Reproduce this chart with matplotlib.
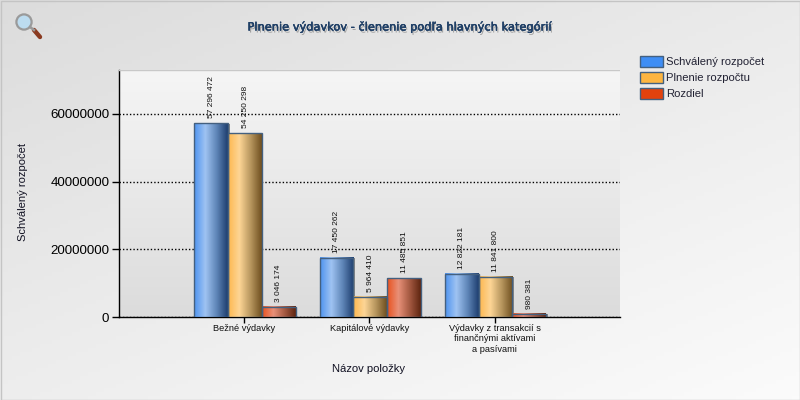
import numpy as np
import matplotlib
matplotlib.use("Agg")
import matplotlib.pyplot as plt
import matplotlib.patheffects as pe
from matplotlib.colors import LinearSegmentedColormap as LSC
from matplotlib.patches import Circle, Rectangle
from matplotlib.lines import Line2D

categories = ["Bežné výdavky", "Kapitálové výdavky",
              "Výdavky z transakcií s\nfinančnými aktívami\na pasívami"]
series_names = ["Schválený rozpočet", "Plnenie rozpočtu", "Rozdiel"]
schvaleny = [57296472, 17450262, 12822181]
plnenie = [54250298, 5964410, 11841800]
rozdiel = [3046174, 11485851, 980381]
yticks = [0, 20000000, 40000000, 60000000]
title = "Plnenie výdavkov - členenie podľa hlavných kategórií"
xlabel = "Názov položky"
ylabel = "Schválený rozpočet"

base_colors = ["#3f8ef5", "#fdb541", "#e2420e"]
grads = [["#4f94f0", "#9fc3f2", "#5f86b8", "#1f3f70"],
         ["#fdb850", "#fdd595", "#b8975f", "#705020"],
         ["#e8521f", "#e89078", "#a55a42", "#5f2510"]]

W, H = 800, 400
plt.rcParams['font.family'] = ['Liberation Sans', 'DejaVu Sans']
fig = plt.figure(figsize=(W/100, H/100), dpi=100)

# page background
bg = fig.add_axes([0, 0, 1, 1], zorder=0)
bg.set_axis_off()
yy, xx = np.mgrid[0:1:100j, 0:1:200j]
bg.imshow(0.45*xx + 0.55*yy, cmap=LSC.from_list("p", ["#dcdcdc", "#ececec", "#fbfbfb"]),
          extent=[0, W, H, 0], aspect="auto", vmin=0, vmax=1)
bg.add_patch(Rectangle((0.5, 0.5), W-1, H-1, fill=False, ec="#c4c4c4", lw=1))
bg.set_xlim(0, W); bg.set_ylim(H, 0)

# magnifier icon
bg.add_line(Line2D([34, 40], [30, 37], color="#8a3a20", lw=3.2, solid_capstyle="round"))
bg.add_line(Line2D([30, 34], [27, 30], color="#999999", lw=1.8))
bg.add_patch(Circle((24, 22), 7.6, fc="#bcdcf0", ec="#9a9a9a", lw=1.6))

ax = fig.add_axes([119/W, 1-317/H, (620-119)/W, (317-70)/H], zorder=2)
ax.imshow(np.linspace(0, 1, 100)[:, None], cmap=LSC.from_list("a", ["#f5f5f5", "#dcdcdc"]),
          extent=[0, 4, 0, 73000000], aspect="auto", zorder=0)

ax.yaxis.grid(True, color="black", linestyle=(0, (1, 1.5)), lw=1, zorder=1)
ax.set_axisbelow(True)

width = 0.27
x = np.arange(1, len(categories)+1) + 0.006
data = [schvaleny, plnenie, rozdiel]
for i, vals in enumerate(data):
    off = (i-1)*width
    cmap = LSC.from_list("b%d" % i, grads[i])
    bars = ax.bar(x+off, vals, width, color=base_colors[i], edgecolor="#44607f", lw=1, zorder=3)
    for b, v in zip(bars, vals):
        ax.add_patch(Rectangle((b.get_x()+0.012, 0), b.get_width(), v-150000,
                               fc="#888888", ec="none", zorder=2.5))
        ax.imshow(np.linspace(0, 1, 64)[None, :], cmap=cmap, aspect="auto",
                  extent=[b.get_x(), b.get_x()+b.get_width(), 0, v], zorder=3.2)
        b.set_facecolor("none")
        b.set_zorder(3.4)
        ax.annotate(f"{v:,}".replace(",", " "), (b.get_x()+b.get_width()/2, v),
                    xytext=(0, 5), textcoords="offset pixels", rotation=90,
                    ha="center", va="bottom", fontsize=6.0, color="#111111", zorder=5)
ax.set_xlim(0, 4); ax.set_ylim(0, 73000000)

ax.set_yticks(yticks)
ax.set_yticklabels([str(v) for v in yticks], fontsize=9.6, color="black")
ax.set_xticks(np.arange(1, len(categories)+1))
ax.set_xticklabels(categories, fontsize=6.7, color="#111111", linespacing=1.22)
ax.tick_params(axis="y", length=5, width=1, pad=2)
ax.tick_params(axis="x", length=4, width=1, pad=1)
for s in ["top", "right"]:
    ax.spines[s].set_visible(False)
for s in ["left", "bottom"]:
    ax.spines[s].set_linewidth(1)
ax.add_line(Line2D([0, 1], [1, 1], transform=ax.transAxes, color="#c8c8c8", lw=1, zorder=6))

fig.text(369/W, 1-369/H, xlabel, fontsize=8.1, ha="center", va="center", color="#111122", zorder=5)
fig.text(23/W, 1-192/H, ylabel, fontsize=8.0, rotation=90, ha="center", va="center", color="#111122", zorder=5)
fig.text(400/W, 1-27/H, title, family="DejaVu Sans", fontsize=8.2, ha="center", va="center",
         color="#1f3f66", zorder=5,
         path_effects=[pe.withSimplePatchShadow(offset=(1, -1.5), shadow_rgbFace="#555555", alpha=0.45),
                       pe.withStroke(linewidth=0.25, foreground="#1f3f66")])

# legend
for i, name in enumerate(series_names):
    top = 56 + 16*i
    fig.add_artist(Rectangle((641/W, 1-(top+12)/H), 23/W, 11/H, transform=fig.transFigure,
                             fc="#9a9a9a", ec="none", zorder=4))
    fig.add_artist(Rectangle((639.5/W, 1-(top+11)/H), 23/W, 11/H, transform=fig.transFigure,
                             fc=base_colors[i], ec="#44607f", lw=1, zorder=4.1))
    fig.text(666/W, 1-(top+6)/H, name, fontsize=8.1, ha="left", va="center", color="#222233", zorder=5)

fig.savefig("out.png", dpi=100)
